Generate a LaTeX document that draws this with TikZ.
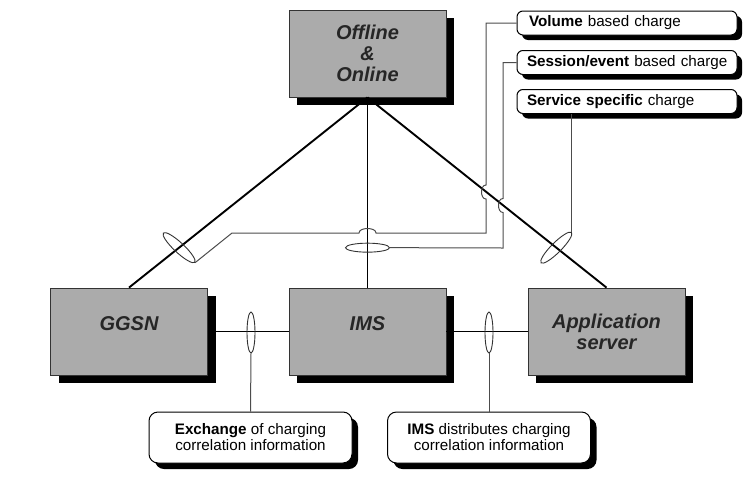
\documentclass[tikz,border=0pt]{standalone}
\usepackage{fontspec}
\setmainfont{Liberation Sans}
\usetikzlibrary{shapes.geometric}
\usetikzlibrary{shadows}
\usetikzlibrary{calc}

\begin{document}
\begin{tikzpicture}[x=1pt, y=-1pt,
	box/.style={draw=black!80, line width=0.8pt, fill=black!33, minimum width=157pt, minimum height=87pt, inner sep=0pt, align=center, text=black!85, font=\fontsize{20}{21}\selectfont\bfseries\itshape, drop shadow={shadow xshift=8pt, shadow yshift=-8pt, fill=black, opacity=1}},
	note/.style={draw=black, line width=1pt, fill=white, rounded corners=6pt, minimum height=24pt, text width=204pt, inner xsep=8pt, inner ysep=0pt, align=left, font=\fontsize{15.2}{16}\selectfont, drop shadow={shadow xshift=5pt, shadow yshift=-5pt, fill=black, opacity=1}},
	callout/.style={draw=black, line width=1pt, fill=white, rounded corners=9pt, minimum width=203pt, minimum height=51pt, inner sep=0pt, align=center, font=\fontsize{15.2}{16}\selectfont, drop shadow={shadow xshift=6pt, shadow yshift=-6pt, fill=black, opacity=1}},
	ring/.style={draw=black!80, line width=0.9pt, ellipse, inner sep=0pt},
	link/.style={line width=1.9pt},
	wire/.style={line width=1pt, draw=black!70}]
\useasboundingbox (0,0) rectangle (750,480);

% charging systems
\node[box] (off) at (367.5,53.5) {Offline\\\&\\Online};
\node[box] (ggsn) at (129,331.5) {GGSN\\[-6pt]};
\node[box] (ims) at (367.5,331.5) {IMS\\[-6pt]};
\node[box] (appsrv) at (606.5,331.5) {Application\\server};

% kinds of charge
\node[note] (vol) at (627,23) {\hspace*{4pt}\textbf{Volume} based charge};
\node[note] (sess) at (627,62.5) {\hspace*{2pt}\textbf{Session/event} based charge};
\node[note] (svc) at (627,101.5) {\hspace*{2pt}\textbf{Service specific} charge};

\node[callout] (xchg) at (250.5,437.5) {\textbf{Exchange} of charging\\correlation information};
\node[callout] (dist) at (489,437.5) {\textbf{IMS} distributes charging\\correlation information};

\draw[link] (off.south) -- (ggsn.north);
\draw[link] (off.south) -- (ims.north);
\draw[link] (off.south) -- (appsrv.north);
\draw[link] (ggsn) -- (ims);
\draw[link] (ims) -- (appsrv);

\node[ring, minimum width=43pt, minimum height=10pt, rotate=-43] (ringl) at ($(off.south)!0.79!(ggsn.north)$) {};
\node[ring, minimum width=44pt, minimum height=9pt] (ringc) at ($(off.south)!0.79!(ims.north)$) {};
\node[ring, minimum width=43pt, minimum height=10pt, rotate=45] (ringr) at ($(off.south)!0.79!(appsrv.north)$) {};
\node[ring, minimum width=8pt, minimum height=41pt] (ringa) at (251,332.5) {};
\node[ring, minimum width=8pt, minimum height=41pt] (ringb) at (489,332.5) {};

% wires with hops
\draw[wire] (vol.west) -- (486,23) -- (486,185)
	.. controls (480,185) and (480,199) .. (486,199) -- (486,233) -- (376,233)
	.. controls (376,227) and (359,227) .. (359,233) -- (232,233) -- (ringl.east);
\draw[wire] (sess.west) -- (503,62.5) -- (503,198.5)
	.. controls (497,198.5) and (497,212.5) .. (503,212.5) -- (503,248) -- (ringc.east);
\draw[wire] (ringr.east |- svc.south) -- (ringr.east);
\draw[wire] (ringa.south) -- (xchg.north);
\draw[wire] (ringb.south) -- (dist.north);
\end{tikzpicture}
\end{document}
